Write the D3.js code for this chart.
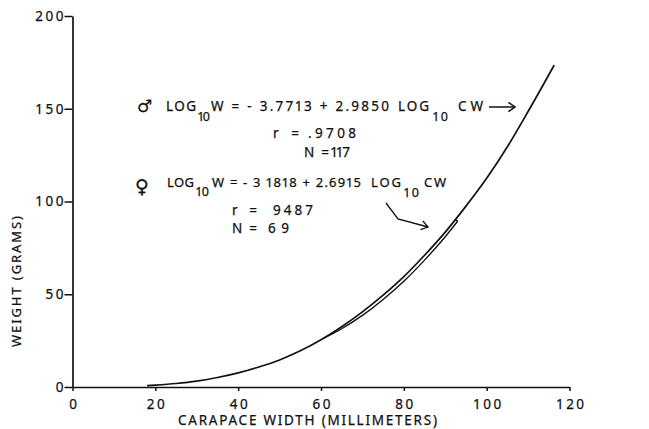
<!DOCTYPE html>
<html>
<head>
<meta charset="utf-8">
<script src="https://cdn.jsdelivr.net/npm/d3@7"></script>
<style>
  html, body { margin: 0; padding: 0; background: #fff; }
  svg { display: block; }
  text { font-family: "Noto Sans", "DejaVu Sans", sans-serif; fill: #111; }
</style>
</head>
<body>
<svg id="chart" width="649" height="429"></svg>
<script>
// ---- data ----
const xTicks = [0, 20, 40, 60, 80, 100, 120];
const yTicks = [0, 50, 100, 150, 200];
const maleCW = [18, 20, 25, 30, 35, 40, 45, 50, 55, 60, 65, 70, 75, 80, 85, 90, 95, 100, 105, 110, 116.3];
const maleW  = [0.7, 1.0, 1.9, 3.2, 5.1, 7.6, 10.8, 14.6, 19.5, 25.5, 32.5, 40.5, 49.5, 59.5, 71, 83.5, 97.5, 112.5, 129.5, 148.5, 173.5];
const femaleCW = [60.5, 65, 70, 75, 80, 85, 90, 93];
const femaleW  = [26.1, 31.4, 38.6, 47.2, 57.0, 68.4, 81.0, 89.4];
const xTitle = "CARAPACE WIDTH (MILLIMETERS)";
const yTitle = "WEIGHT (GRAMS)";

const FONT = "Noto Sans, DejaVu Sans, sans-serif";
const svg = d3.select("#chart");
const x = d3.scaleLinear().domain([0, 120]).range([72.5, 569.5]);
const y = d3.scaleLinear().domain([0, 200]).range([387, 16]);
const INK = "#111";

// place a string so that it spans [x0, x0+target], slightly narrowing the "1" glyph cells
function spread(sel, str, x0, target) {
  const node = sel.node();
  const adv = [];
  for (let i = 0; i < str.length; i++) adv.push(node.getSubStringLength(i, 1));
  const adj = adv.map((a, i) => str[i] === "1" ? a * 0.8 : a);
  const natural = d3.sum(adj);
  const extra = str.length > 1 ? (target - natural) / (str.length - 1) : 0;
  const xs = [];
  let cx = x0;
  for (let i = 0; i < str.length; i++) {
    xs.push(cx - (adv[i] - adj[i]) / 2);
    cx += adj[i] + extra;
  }
  sel.attr("x", xs.map(v => v.toFixed(2)).join(" "));
}

// axes
const gx = svg.append("g").attr("transform", `translate(0,${y(0)})`)
  .call(d3.axisBottom(x).tickValues(xTicks).tickSize(4).tickSizeOuter(0).tickPadding(8).tickFormat(d3.format("d")));
const gy = svg.append("g").attr("transform", `translate(${x(0)},0)`)
  .call(d3.axisLeft(y).tickValues(yTicks).tickSize(8).tickSizeOuter(0).tickPadding(-1.5).tickFormat(d3.format("d")));
[gx, gy].forEach(g => {
  g.select(".domain").attr("stroke", INK).attr("stroke-width", 1.7);
  g.selectAll(".tick line").attr("stroke", INK).attr("stroke-width", 1.5);
  g.selectAll(".tick text").attr("font-size", 13.5).attr("fill", INK)
    .attr("stroke", INK).attr("stroke-width", 0.25)
    .style("font-family", FONT).attr("letter-spacing", 2.5);
});
gx.selectAll(".tick text").attr("dx", 1.25);

// axis titles
svg.append("text").attr("x", 178).attr("y", 425).attr("font-size", 13.5)
  .attr("stroke", INK).attr("stroke-width", 0.25)
  .attr("textLength", 259).attr("lengthAdjust", "spacing").text(xTitle);
svg.append("text").attr("transform", "translate(21,347) rotate(-90)").attr("font-size", 13)
  .attr("stroke", INK).attr("stroke-width", 0.25)
  .attr("textLength", 131).attr("lengthAdjust", "spacing").text(yTitle);

// curves
const line = d3.line().x(d => x(d[0])).y(d => y(d[1])).curve(d3.curveMonotoneX);
const malePts = maleCW.map((c, i) => [c, maleW[i]]);
const femPts = femaleCW.map((c, i) => [c, femaleW[i]]);
svg.append("path").datum(malePts)
  .attr("d", line).attr("fill", "none").attr("stroke", INK).attr("stroke-width", 1.7);
svg.append("path").datum(femPts)
  .attr("d", line).attr("fill", "none").attr("stroke", INK).attr("stroke-width", 1.4);
// short closing cap of the female line onto the male line
const fEnd = femPts[femPts.length - 1];
const capCW = fEnd[0] - 0.6;
const maleAt = d3.scaleLinear().domain(maleCW).range(maleW);
svg.append("path")
  .attr("d", `M${x(fEnd[0])},${y(fEnd[1])}L${x(capCW)},${y(maleAt(capCW))}`)
  .attr("stroke", INK).attr("stroke-width", 1.3).attr("fill", "none");

// annotations
const pieces = [
  {t: "\u2642", x: 137, y: 112, fs: 17, w: null, f: "DejaVu Sans"},
  {t: "LOG", x: 166, y: 111, fs: 13.5, w: 30},
  {t: "10", x: 198, y: 121, fs: 12.5, w: 12},
  {t: "W = - 3.7713 + 2.9850", x: 211, y: 111, fs: 13.5, w: 178},
  {t: "LOG", x: 398, y: 111, fs: 13.5, w: 31},
  {t: "10", x: 433, y: 121, fs: 12.5, w: 15},
  {t: "CW", x: 458, y: 111, fs: 13.5, w: 25},
  {t: "r =", x: 273, y: 138, fs: 13.5, w: 26},
  {t: ".9708", x: 308, y: 138, fs: 13.5, w: 48},
  {t: "N =", x: 304, y: 157, fs: 13.5, w: 25},
  {t: "117", x: 331, y: 157, fs: 13.5, w: 19},
  {t: "\u2640", x: 135, y: 193, fs: 19, w: null, f: "DejaVu Sans"},
  {t: "LOG", x: 167, y: 187, fs: 13, w: 27},
  {t: "10", x: 196, y: 196, fs: 12.5, w: 13},
  {t: "W = - 3 1818 + 2.6915", x: 212, y: 187, fs: 13, w: 149},
  {t: "LOG", x: 371, y: 187, fs: 13, w: 30},
  {t: "10", x: 404, y: 197, fs: 12.5, w: 15},
  {t: "CW", x: 424, y: 187, fs: 13, w: 22},
  {t: "r =", x: 232, y: 215, fs: 13.5, w: 25},
  {t: "9487", x: 273, y: 215, fs: 13.5, w: 40},
  {t: "N =", x: 232, y: 233, fs: 13.5, w: 25},
  {t: "69", x: 268, y: 233, fs: 13.5, w: 21}
];
pieces.forEach(p => {
  const t = svg.append("text").attr("x", p.x).attr("y", p.y).attr("font-size", p.fs)
    .attr("stroke", INK).attr("stroke-width", 0.25).text(p.t);
  if (p.f) t.style("font-family", p.f);
  if (p.w) spread(t, p.t, p.x, p.w);
});

// arrows
function chevron(x1, y1, x2, y2, len, ang) {
  const a = Math.atan2(y2 - y1, x2 - x1);
  const p1 = [x2 - len * Math.cos(a - ang), y2 - len * Math.sin(a - ang)];
  const p2 = [x2 - len * Math.cos(a + ang), y2 - len * Math.sin(a + ang)];
  return `M${p1[0]},${p1[1]}L${x2},${y2}L${p2[0]},${p2[1]}`;
}
svg.append("path").attr("d", "M489,107L515,107").attr("stroke", INK).attr("stroke-width", 1.5).attr("fill", "none");
svg.append("path").attr("d", chevron(489, 107, 515, 107, 8, 0.6)).attr("stroke", INK).attr("stroke-width", 1.5).attr("fill", "none");
svg.append("path").attr("d", "M386,203L398,219L428,227").attr("stroke", INK).attr("stroke-width", 1.3).attr("fill", "none");
svg.append("path").attr("d", chevron(398, 219, 428, 227, 8, 0.6)).attr("stroke", INK).attr("stroke-width", 1.3).attr("fill", "none");
</script>
</body>
</html>
